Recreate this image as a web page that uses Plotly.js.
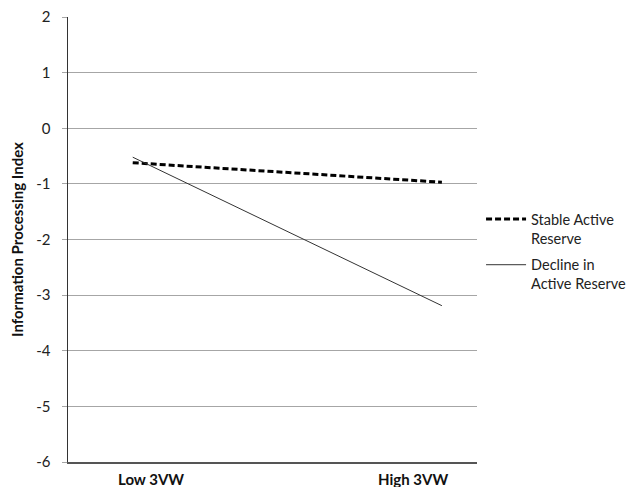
<!DOCTYPE html>
<html>
<head>
<meta charset="utf-8">
<script src="https://cdn.plot.ly/plotly-3.0.1.min.js"></script>
<style>html,body{margin:0;padding:0;background:#fff;}#chart{width:628px;height:487px;}</style>
</head>
<body>
<div id="chart"></div>
<script>
// Category labels and their axis positions
const categories = ['Low 3VW', 'High 3VW'];
const categoryPositions = [1, 2];
// Where the plotted lines start and end on the x axis
const lineX = [0.93, 2.11];
// Series values
const stableActiveReserve = [-0.62, -0.97];
const declineActiveReserve = [-0.52, -3.19];
// Y-axis ticks
const yTicks = [2, 1, 0, -1, -2, -3, -4, -5, -6];

const font = 'Lato, "Open Sans", sans-serif';

const traces = [
  {
    x: lineX, y: stableActiveReserve, type: 'scatter', mode: 'lines',
    name: 'Stable Active<br>Reserve', legendgroup: 'a',
    line: {color: '#000000', width: 3, dash: '6px,3px'}
  },
  {
    x: lineX, y: declineActiveReserve, type: 'scatter', mode: 'lines',
    name: 'Decline in<br>Active Reserve', legendgroup: 'b',
    line: {color: '#333333', width: 1}
  }
];

const layout = {
  width: 628, height: 487,
  margin: {l: 68, r: 151, t: 17, b: 25, autoexpand: false},
  paper_bgcolor: '#ffffff', plot_bgcolor: '#ffffff',
  font: {family: font, size: 15, color: '#222'},
  showlegend: true,
  legend: {
    xref: 'container', yref: 'container',
    x: 0.766, xanchor: 'left', y: 0.583, yanchor: 'top',
    font: {family: font, size: 14.5, color: '#222'},
    valign: 'top', tracegroupgap: 5, itemwidth: 40,
    bgcolor: 'rgba(0,0,0,0)'
  },
  xaxis: {
    range: [0.683, 2.244],
    tickmode: 'array', tickvals: categoryPositions, ticktext: categories,
    showgrid: false, zeroline: false,
    showline: true, linecolor: '#555', linewidth: 1.5,
    ticks: '', tickfont: {family: font, size: 15, color: '#111', weight: 'bold'},
    ticklabelstandoff: 3, fixedrange: true
  },
  yaxis: {
    range: [-6, 2],
    tickmode: 'array', tickvals: yTicks, ticktext: yTicks.map(String),
    showgrid: true, gridcolor: '#a6a6a6', gridwidth: 1,
    zeroline: false,
    showline: true, linecolor: '#333', linewidth: 1.5,
    ticks: 'outside', ticklen: 5, tickcolor: '#a6a6a6', tickwidth: 1,
    tickfont: {family: font, size: 15, color: '#222'},
    ticklabelstandoff: 8,
    title: {text: 'Information Processing Index', font: {family: font, size: 15, color: '#111', weight: 'bold'}, standoff: 9},
    fixedrange: true
  }
};

Plotly.newPlot('chart', traces, layout, {displayModeBar: false, staticPlot: true});
</script>
</body>
</html>
